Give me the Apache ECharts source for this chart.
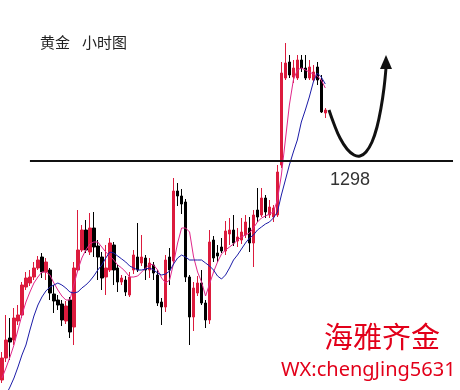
<!DOCTYPE html>
<html><head><meta charset="utf-8">
<script src="https://cdn.jsdelivr.net/npm/echarts@6/dist/echarts.min.js"></script>
<style>html,body{margin:0;padding:0;background:#fff}#c{width:460px;height:390px}</style>
</head><body><div id="c"></div>
<script>
const opens = [1276.1,1278.3,1280.3,1280.1,1282.0,1282.6,1285.4,1285.8,1286.4,1287.3,
1288.4,1286.9,1287.1,1284.7,1284.1,1283.7,1282.0,1284.1,1281.4,1287.1,
1289.1,1291.1,1288.9,1291.3,1289.5,1288.4,1286.4,1287.1,1289.6,1287.3,
1285.9,1286.1,1284.6,1287.1,1288.4,1287.8,1288.3,1287.1,1287.6,1286.6,
1283.9,1283.4,1288.4,1288.0,1295.0,1294.5,1293.9,1286.4,1282.4,1284.8,
1285.8,1283.8,1282.1,1290.1,1288.8,1289.4,1289.0,1290.7,1291.1,1290.0,
1290.1,1290.6,1291.3,1289.8,1293.1,1292.6,1294.3,1292.6,1292.4,1292.6,
1297.6,1306.3,1307.9,1306.4,1306.3,1308.1,1307.3,1306.3,1306.1,1307.4,
1306.1,1302.8];
const closes = [1278.3,1280.1,1279.9,1282.3,1282.6,1285.6,1286.3,1286.4,1287.3,1288.1,
1286.9,1287.9,1284.8,1284.0,1283.6,1282.1,1283.5,1280.9,1287.3,1289.1,
1291.1,1289.1,1291.3,1289.4,1288.4,1286.3,1287.3,1289.8,1287.1,1285.9,
1286.3,1284.9,1286.4,1288.6,1287.1,1288.4,1287.1,1287.8,1286.8,1283.8,
1283.4,1288.1,1287.1,1295.0,1294.5,1293.7,1286.4,1282.4,1285.3,1285.8,
1283.8,1282.1,1289.9,1288.3,1288.5,1289.0,1291.0,1291.1,1289.8,1290.4,
1290.9,1291.9,1289.8,1292.6,1292.4,1294.3,1292.9,1293.4,1293.3,1296.9,
1306.8,1307.8,1306.6,1307.3,1308.1,1307.3,1306.3,1307.4,1306.9,1306.1,
1302.9,1303.1];
const lows = [1275.8,1277.9,1278.1,1279.6,1281.6,1282.3,1285.1,1285.5,1286.1,1287.1,
1286.3,1286.1,1284.1,1282.8,1283.1,1281.5,1281.7,1280.3,1279.6,1286.9,
1288.9,1288.8,1288.6,1288.4,1286.1,1285.1,1284.6,1286.9,1285.6,1284.9,
1285.6,1284.5,1284.4,1286.7,1286.9,1287.5,1286.1,1286.3,1286.1,1283.5,
1281.6,1282.9,1285.6,1287.6,1293.5,1292.7,1285.9,1279.6,1281.0,1284.5,
1283.6,1281.3,1281.7,1287.9,1287.9,1288.8,1288.6,1289.6,1289.5,1289.4,
1289.7,1290.3,1288.9,1287.4,1291.9,1292.4,1292.3,1292.3,1291.9,1292.4,
1297.3,1306.1,1306.3,1305.8,1306.1,1306.9,1306.1,1306.1,1305.9,1305.6,
1302.8,1302.3];
const highs = [1278.9,1282.6,1282.3,1283.3,1283.6,1285.9,1286.9,1287.1,1287.9,1288.5,
1288.8,1288.3,1287.3,1285.6,1284.6,1284.1,1284.0,1284.4,1287.9,1293.1,
1291.6,1292.1,1292.8,1292.9,1290.1,1288.9,1289.6,1290.3,1289.9,1287.6,
1286.6,1286.5,1286.9,1289.1,1291.8,1290.6,1288.6,1288.3,1287.9,1287.1,
1284.3,1288.6,1289.3,1296.3,1295.8,1295.2,1294.2,1286.6,1285.9,1286.5,
1287.1,1284.1,1291.1,1290.5,1289.6,1290.3,1292.0,1292.3,1292.6,1291.3,
1292.3,1292.6,1292.4,1293.1,1295.3,1295.3,1294.6,1294.1,1293.6,1297.6,
1307.9,1309.8,1308.6,1308.1,1308.6,1308.6,1308.6,1308.1,1307.6,1307.9,
1306.6,1303.3];
const maFast = [1276.3,1277.3,1278.4,1279.6,1281.1,1282.6,1283.9,1284.9,1285.8,1286.4,
1286.9,1286.9,1286.6,1285.8,1285.1,1284.5,1284.1,1284.1,1285.6,1287.1,
1288.3,1289.1,1289.7,1289.9,1289.9,1289.4,1288.9,1288.5,1288.1,1287.6,
1287.3,1286.9,1286.4,1286.4,1286.5,1286.9,1287.3,1287.7,1287.6,1287.1,
1286.3,1285.8,1286.1,1287.8,1289.8,1291.3,1291.3,1290.9,1288.4,1286.9,
1285.9,1284.5,1285.7,1286.9,1287.9,1288.7,1289.1,1289.4,1289.7,1290.1,
1290.4,1290.6,1290.8,1291.3,1291.9,1292.3,1292.5,1292.7,1292.9,1294.1,
1296.6,1300.1,1303.6,1306.1,1307.1,1307.3,1307.1,1306.9,1306.7,1306.5,
1306.1,1305.3];
const maSlow = [1273.6,1274.6,1275.4,1276.3,1277.4,1278.6,1279.6,1281.1,1282.5,1283.6,
1284.4,1285.0,1285.4,1285.6,1285.8,1285.6,1285.3,1284.9,1284.8,1284.9,
1285.3,1285.6,1286.0,1286.5,1287.1,1287.6,1288.3,1288.9,1288.8,1288.5,
1288.2,1287.9,1287.5,1287.3,1287.1,1287.1,1287.2,1287.3,1287.1,1286.8,
1286.6,1286.7,1287.0,1287.7,1288.3,1288.6,1288.4,1288.1,1288.1,1288.1,
1288.1,1287.8,1287.5,1287.1,1286.5,1286.2,1286.6,1287.3,1288.1,1288.6,
1289.2,1289.8,1290.3,1290.6,1291.1,1291.4,1291.7,1291.9,1292.3,1292.9,
1294.6,1296.1,1297.6,1298.9,1300.1,1301.9,1303.1,1304.4,1305.9,1306.8,
1306.4,1305.7];
const supportLevel = 1298;
const titleLeft = '黄金';
const titleRight = '小时图';
const brandName = '海雅齐金';
const brandContact = 'WX:chengJing5631';

const totalSlots = 115;
const categories = [];
for (let i = 0; i < totalSlots; i++) categories.push(i < opens.length ? 'H' + (i + 1) : '');
const candles = opens.map((o, i) => [o, closes[i], lows[i], highs[i]]);

const chart = echarts.init(document.getElementById('c'), null, {renderer: 'canvas'});
chart.setOption({
  animation: false,
  backgroundColor: '#fff',
  grid: {left: -1, right: 1, top: 0, bottom: 0},
  xAxis: {type: 'category', data: categories, show: false, boundaryGap: true},
  yAxis: {type: 'value', min: 1275.1, max: 1314.1, show: false, scale: true},
  series: [
    {
      type: 'candlestick', data: candles, barWidth: 3,
      itemStyle: {color: '#dc1b3d', color0: '#000', borderColor: '#dc1b3d', borderColor0: '#000', borderWidth: 1},
      markLine: {
        silent: true, symbol: ['none', 'none'], animation: false,
        label: {show: false},
        lineStyle: {color: '#111', width: 2, type: 'solid'},
        data: [[{coord: [7, supportLevel]}, {coord: [113, supportLevel]}]]
      }
    },
    {type: 'line', data: maFast, symbol: 'none', lineStyle: {color: '#e0288a', width: 1}, z: 3},
    {type: 'line', data: maSlow, symbol: 'none', lineStyle: {color: '#1c1ca8', width: 1}, z: 3}
  ],
  graphic: [
    {type: 'text', left: 40, top: 35, style: {text: titleLeft, font: '15px "Noto Sans CJK SC"', fill: '#222'}},
    {type: 'text', left: 82, top: 35, style: {text: titleRight, font: '15px "Noto Sans CJK SC"', fill: '#222'}},
    {type: 'text', left: 330, top: 171, style: {text: String(supportLevel), font: '18px "Liberation Sans", Arial', fill: '#333'}},
    {type: 'text', left: 324, top: 322, style: {text: brandName, font: '29px "Noto Sans CJK SC"', fill: '#e2001a'}},
    {type: 'text', left: 281, top: 360, style: {text: brandContact, font: '20px "Noto Sans"', fill: '#e2001a'}},
    {type: 'polyline', shape: {smooth: 0.4, points: [[329,110],[334,124],[340,138],[347,149],[354,155],[360,156],[366,152],[372,142],[377,127],[381,108],[384,88],[386,68]]},
      style: {stroke: '#111', lineWidth: 3, fill: null}},
    {type: 'polygon', shape: {points: [[386,55],[380,69],[392,69]]}, style: {fill: '#111'}}
  ]
});
</script></body></html>
